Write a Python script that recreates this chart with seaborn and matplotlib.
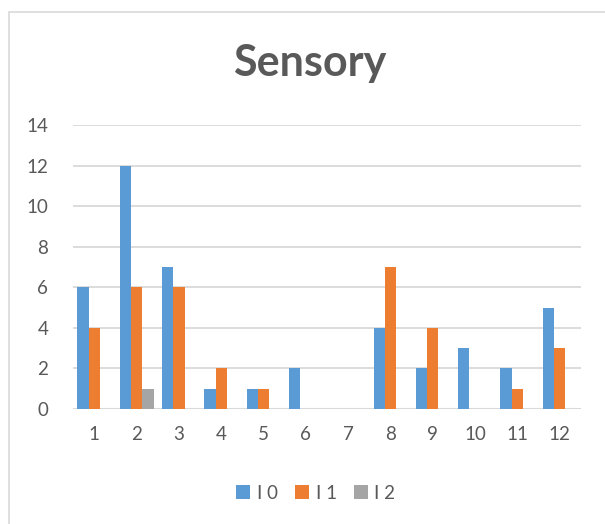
import pandas as pd
import numpy as np
from matplotlib import pyplot as plt
from matplotlib.patches import Rectangle
import seaborn as sb

# values
categories = ['1', '2', '3', '4', '5', '6', '7', '8', '9', '10', '11', '12']
series_names = ['I 0', 'I 1', 'I 2']
vals_0 = [6, 12, 7, 1, 1, 2, 0, 4, 2, 3, 2, 5]
vals_1 = [4, 6, 6, 2, 1, 0, 0, 7, 4, 0, 1, 3]
vals_2 = [0, 1, 0, 0, 0, 0, 0, 0, 0, 0, 0, 0]
y_ticks = [0, 2, 4, 6, 8, 10, 12, 14]

colors = ['#5B9BD5', '#ED7D31', '#A5A5A5']

data_frame = pd.DataFrame({
    'cat': categories * 3,
    'series': np.repeat(series_names, len(categories)),
    'value': vals_0 + vals_1 + vals_2,
})

sb.set_style('white')
plt.rcParams['font.family'] = ['Lato', 'DejaVu Sans']

fig = plt.figure(figsize=(6.05, 5.24), dpi=100)
ax = fig.add_axes([0.121, 0.2195, 0.839, 0.542])

sb.barplot(data=data_frame, x='cat', y='value', hue='series', order=categories,
           hue_order=series_names, palette=colors, width=0.8, ax=ax,
           saturation=1, legend=True, linewidth=0, zorder=3)

ax.set_ylim(0, 14)
ax.set_yticks(y_ticks)
ax.set_xlim(-0.5, len(categories) - 0.5)
ax.yaxis.grid(True, color='#D9D9D9', linewidth=1.3, zorder=0)
ax.set_axisbelow(True)
for s in ax.spines.values():
    s.set_visible(False)
ax.axhline(0, color='#D9D9D9', linewidth=1.5, zorder=2)
ax.tick_params(axis='both', length=0, labelsize=13.5, labelcolor='#595959', pad=12)
ax.tick_params(axis='y', pad=18)
ax.set_xlabel('')
ax.set_ylabel('')

ax.legend(loc='center', bbox_to_anchor=(0.522, 0.059), bbox_transform=fig.transFigure,
          ncol=3, frameon=False, fontsize=13.5, handlelength=0.75, handleheight=0.75,
          handletextpad=0.35, columnspacing=0.9, labelcolor='#595959')

fig.text(0.512, 0.88, 'Sensory', ha='center', va='center', fontsize=31,
         fontweight='bold', color='#595959')

# outer chart border
fig.patches.append(Rectangle((9 / 605, -0.1), 1.2, 1 - 12 / 524 + 0.1,
                             transform=fig.transFigure, fill=False,
                             edgecolor='#D9D9D9', linewidth=1.2))

plt.savefig('out.png', dpi=100)
